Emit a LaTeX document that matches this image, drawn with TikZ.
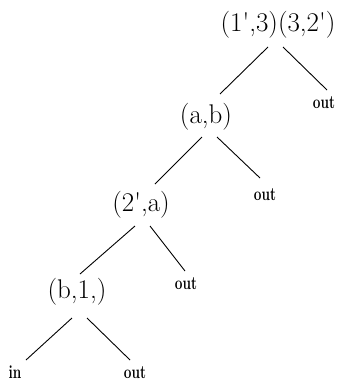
\documentclass[tikz,border=0pt]{standalone}
\usepackage{fontspec}
\setmainfont{Latin Modern Roman}
\newcommand{\leaftext}[1]{\scalebox{0.8}[1.1]{#1}}
\newcommand{\tick}{\textquotesingle}
\begin{document}
\begin{tikzpicture}[x=1pt,y=-1pt,
  pair/.style={inner sep=0pt,font=\fontsize{27}{27}\selectfont},
  leaf/.style={inner sep=0pt,font=\fontsize{17}{17}\selectfont\bfseries},
  edge/.style={line width=0.9pt}]
\useasboundingbox (0,0) rectangle (342,383);
\node[pair] (r) at (278,25) {(1\tick,3)(3,2\tick)};
\node[leaf] (o1) at (324,103) {\leaftext{out}};
\node[pair] (ab) at (206,117) {(a,b)};
\node[leaf] (o2) at (265,195) {\leaftext{out}};
\node[pair] (2a) at (141,205) {(2\tick,a)};
\node[leaf] (o3) at (186,284) {\leaftext{out}};
\node[pair] (b1) at (77,292) {(b,1,)};
\node[leaf] (in) at (15,372) {\leaftext{in}};
\node[leaf] (o4) at (135,373) {\leaftext{out}};
\draw[edge] (268,47) -- (220,94);
\draw[edge] (283,47) -- (327,90);
\draw[edge] (202,137) -- (155,184);
\draw[edge] (217,137) -- (260,178);
\draw[edge] (135,226) -- (80,274);
\draw[edge] (150,226) -- (185,271);
\draw[edge] (72,318) -- (26,360);
\draw[edge] (87,318) -- (130,360);
\end{tikzpicture}
\end{document}
